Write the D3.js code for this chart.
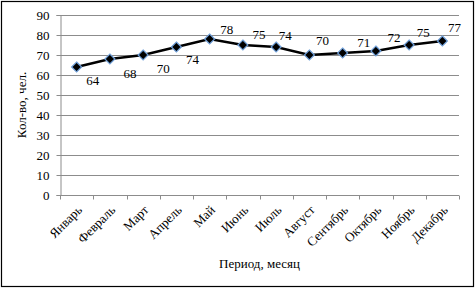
<!DOCTYPE html>
<html>
<head>
<meta charset="utf-8">
<script src="https://cdn.jsdelivr.net/npm/d3@7"></script>
<style>
  body { margin: 0; background: #fff; }
  svg text { font-family: "Liberation Serif", "Times New Roman", serif; }
</style>
</head>
<body>
<svg id="chart" width="476" height="289"></svg>
<script>
const months = ['Январь', 'Февраль', 'Март', 'Апрель', 'Май', 'Июнь',
  'Июль', 'Август', 'Сентябрь', 'Октябрь', 'Ноябрь', 'Декабрь'];
const values = [64, 68, 70, 74, 78, 75, 74, 70, 71, 72, 75, 77];
const yTicks = [0, 10, 20, 30, 40, 50, 60, 70, 80, 90];

// label placement relative to each point (as in the picture)
const labelOffsets = [[16, 13], [20, 14], [20, 13], [16, 12], [17, -10], [16, -11],
  [9, -12], [13, -15], [21, -11], [18, -14], [14, -13], [12, -14]];

const svg = d3.select('#chart');
const width = 476, height = 289;
const margin = {left: 60, right: 17, top: 15, bottom: 94};
const font = '"Liberation Serif", "Times New Roman", serif';

svg.append('rect')
  .attr('x', 1.5).attr('y', 1.5)
  .attr('width', width - 4).attr('height', height - 4)
  .attr('fill', 'none').attr('stroke', '#000').attr('stroke-width', 1.2);

const x = d3.scaleBand()
  .domain(months)
  .range([margin.left, width - margin.right]);

const y = d3.scaleLinear()
  .domain([0, 90])
  .range([height - margin.bottom, margin.top]);

// grid
svg.append('g')
  .selectAll('line')
  .data(yTicks.filter(d => d > 0))
  .join('line')
  .attr('x1', margin.left).attr('x2', width - margin.right)
  .attr('y1', d => Math.round(y(d)) + 0.5).attr('y2', d => Math.round(y(d)) + 0.5)
  .attr('stroke', '#8c8c8c').attr('stroke-width', 1);

// y axis
const yAxis = svg.append('g')
  .attr('transform', `translate(${margin.left + 0.5},0)`)
  .call(d3.axisLeft(y).tickValues(yTicks).tickSize(4).tickPadding(7));
yAxis.attr('font-family', font).attr('font-size', 13);
yAxis.selectAll('path, line').attr('stroke', '#8c8c8c');
yAxis.selectAll('text').attr('fill', '#000');

// x axis
const xAxisG = svg.append('g')
  .attr('transform', `translate(0,${Math.round(y(0)) + 0.5})`);
xAxisG.append('line')
  .attr('x1', margin.left).attr('x2', width - margin.right)
  .attr('stroke', '#8c8c8c');
const boundaries = months.map(m => x(m)).concat([x(months[months.length - 1]) + x.bandwidth()]);
xAxisG.selectAll('line.tick')
  .data(boundaries)
  .join('line')
  .attr('class', 'tick')
  .attr('x1', d => Math.round(d) + 0.5).attr('x2', d => Math.round(d) + 0.5)
  .attr('y1', 0).attr('y2', 4)
  .attr('stroke', '#8c8c8c');
xAxisG.selectAll('text')
  .data(months)
  .join('text')
  .attr('transform', d => `translate(${x(d) + x.bandwidth() / 2 + 3},${12}) rotate(-45)`)
  .attr('text-anchor', 'end')
  .attr('dy', '0.35em')
  .attr('font-size', 13)
  .text(d => d);

// axis titles
svg.append('text')
  .attr('transform', `translate(26,${(y(0) + y(90)) / 2}) rotate(-90)`)
  .attr('text-anchor', 'middle')
  .attr('font-size', 13)
  .text('Кол-во, чел.');

svg.append('text')
  .attr('x', (margin.left + width - margin.right) / 2)
  .attr('y', 268)
  .attr('text-anchor', 'middle')
  .attr('font-size', 13)
  .text('Период, месяц');

// line
const cx = m => x(m) + x.bandwidth() / 2;
const line = d3.line()
  .x((d, i) => cx(months[i]))
  .y(d => y(d));

svg.append('path')
  .datum(values)
  .attr('d', line)
  .attr('fill', 'none')
  .attr('stroke', '#000')
  .attr('stroke-width', 2.5);

// markers
svg.append('g')
  .selectAll('path')
  .data(values)
  .join('path')
  .attr('transform', (d, i) => `translate(${cx(months[i])},${y(d)})`)
  .attr('d', d3.symbol(d3.symbolDiamond2, 64))
  .attr('fill', '#000')
  .attr('stroke', '#6f9fd8')
  .attr('stroke-width', 1.2);

// data labels
svg.append('g')
  .selectAll('text')
  .data(values)
  .join('text')
  .attr('x', (d, i) => cx(months[i]) + labelOffsets[i][0])
  .attr('y', (d, i) => y(d) + labelOffsets[i][1])
  .attr('text-anchor', 'middle')
  .attr('dy', '0.35em')
  .attr('font-size', 13)
  .text(d => d);
</script>
</body>
</html>
